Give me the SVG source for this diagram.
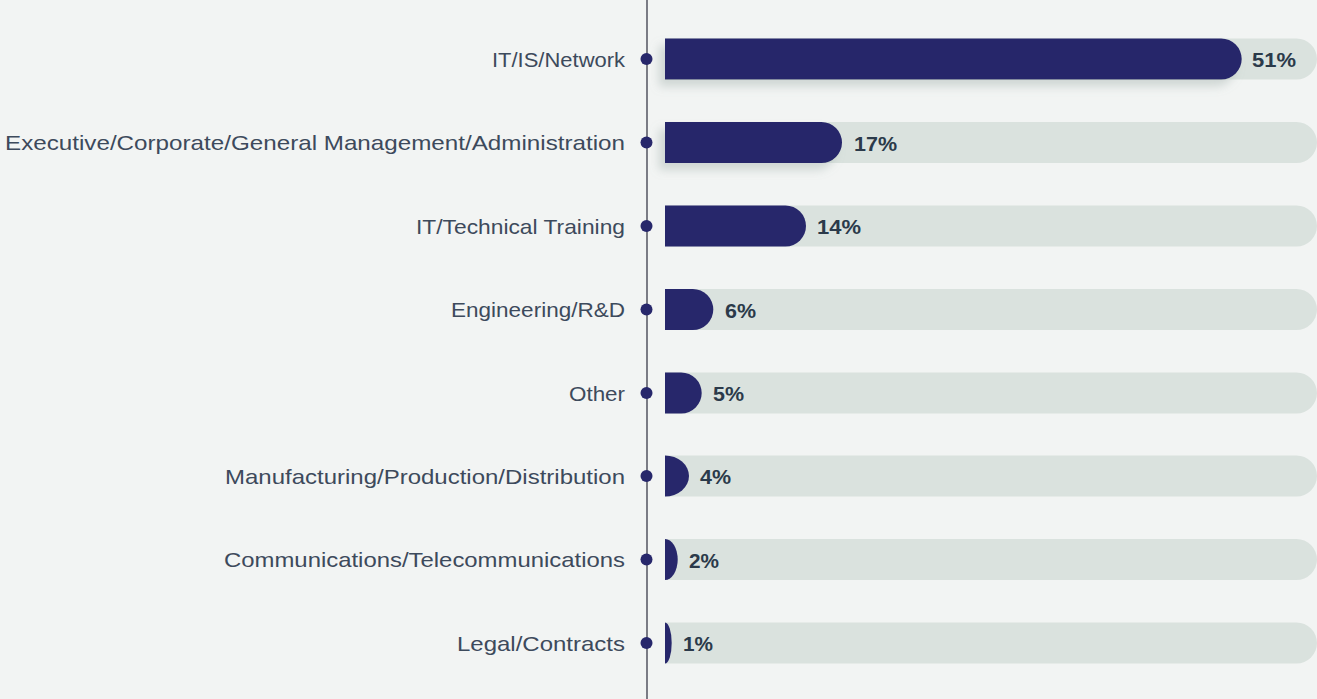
<svg xmlns="http://www.w3.org/2000/svg" width="1317" height="699" viewBox="0 0 1317 699">
<style>
.bg{fill:#f2f4f3}
.track{fill:#dae2de}
.bar{fill:#27276b}
.dot{fill:#27276b}
.axis{stroke:#2b2b3b;stroke-width:1.2}
.lbl{font-family:"Liberation Sans",Arial,sans-serif;font-size:21px;fill:#3d4a5c;text-anchor:end}
.pct{font-family:"Liberation Sans",Arial,sans-serif;font-size:21px;font-weight:bold;fill:#2b3a4a}
</style>
<defs>
<filter id="sh" x="-10%" y="-50%" width="120%" height="220%">
<feDropShadow dx="-6" dy="7" stdDeviation="5" flood-color="#8fa09a" flood-opacity="0.35"/>
</filter>
</defs>
<rect class="bg" x="0" y="0" width="1317" height="699"/>
<g id="tracks">
<path class="track" d="M665 38.5H1296.5A20.5 20.5 0 0 1 1296.5 79.5H665Z"/>
<path class="track" d="M665 122H1296.5A20.5 20.5 0 0 1 1296.5 163H665Z"/>
<path class="track" d="M665 205.5H1296.5A20.5 20.5 0 0 1 1296.5 246.5H665Z"/>
<path class="track" d="M665 289H1296.5A20.5 20.5 0 0 1 1296.5 330H665Z"/>
<path class="track" d="M665 372.5H1296.5A20.5 20.5 0 0 1 1296.5 413.5H665Z"/>
<path class="track" d="M665 455.5H1296.5A20.5 20.5 0 0 1 1296.5 496.5H665Z"/>
<path class="track" d="M665 539H1296.5A20.5 20.5 0 0 1 1296.5 580H665Z"/>
<path class="track" d="M665 622.5H1296.5A20.5 20.5 0 0 1 1296.5 663.5H665Z"/>
</g>
<g id="connectors">
<line class="axis" x1="647" y1="0" x2="647" y2="699"/>
</g>
<g id="row1">
<circle class="dot" cx="646.5" cy="59" r="6"/>
<text class="lbl" x="625" y="66.5" textLength="133" lengthAdjust="spacingAndGlyphs">IT/IS/Network</text>
<path class="bar" filter="url(#sh)" d="M665 38.5H1221.2A20.5 20.5 0 0 1 1221.2 79.5H665Z"/>
<text class="pct" x="1252" y="67" textLength="44" lengthAdjust="spacingAndGlyphs">51%</text>
</g>
<g id="row2">
<circle class="dot" cx="646.5" cy="142.5" r="6"/>
<text class="lbl" x="625" y="150" textLength="620" lengthAdjust="spacingAndGlyphs">Executive/Corporate/General Management/Administration</text>
<path class="bar" filter="url(#sh)" d="M665 122H821.5A20.5 20.5 0 0 1 821.5 163H665Z"/>
<text class="pct" x="854" y="150.5" textLength="43" lengthAdjust="spacingAndGlyphs">17%</text>
</g>
<g id="row3">
<circle class="dot" cx="646.5" cy="226" r="6"/>
<text class="lbl" x="625" y="233.5" textLength="209" lengthAdjust="spacingAndGlyphs">IT/Technical Training</text>
<path class="bar" d="M665 205.5H785.5A20.5 20.5 0 0 1 785.5 246.5H665Z"/>
<text class="pct" x="817" y="234" textLength="44" lengthAdjust="spacingAndGlyphs">14%</text>
</g>
<g id="row4">
<circle class="dot" cx="646.5" cy="309.5" r="6"/>
<text class="lbl" x="625" y="317" textLength="174" lengthAdjust="spacingAndGlyphs">Engineering/R&amp;D</text>
<path class="bar" d="M665 289H692.8A20.5 20.5 0 0 1 692.8 330H665Z"/>
<text class="pct" x="725" y="317.5" textLength="31" lengthAdjust="spacingAndGlyphs">6%</text>
</g>
<g id="row5">
<circle class="dot" cx="646.5" cy="393" r="6"/>
<text class="lbl" x="625" y="400.5" textLength="56" lengthAdjust="spacingAndGlyphs">Other</text>
<path class="bar" d="M665 372.5H681.2A20.5 20.5 0 0 1 681.2 413.5H665Z"/>
<text class="pct" x="713" y="401" textLength="31" lengthAdjust="spacingAndGlyphs">5%</text>
</g>
<g id="row6">
<circle class="dot" cx="646.5" cy="476" r="6"/>
<text class="lbl" x="625" y="483.5" textLength="400" lengthAdjust="spacingAndGlyphs">Manufacturing/Production/Distribution</text>
<path class="bar" d="M665 455.5A24 20.5 0 0 1 665 496.5Z"/>
<text class="pct" x="700" y="484" textLength="31" lengthAdjust="spacingAndGlyphs">4%</text>
</g>
<g id="row7">
<circle class="dot" cx="646.5" cy="559.5" r="6"/>
<text class="lbl" x="625" y="567" textLength="401" lengthAdjust="spacingAndGlyphs">Communications/Telecommunications</text>
<path class="bar" d="M665 539A12.7 20.5 0 0 1 665 580Z"/>
<text class="pct" x="689" y="567.5" textLength="30" lengthAdjust="spacingAndGlyphs">2%</text>
</g>
<g id="row8">
<circle class="dot" cx="646.5" cy="643" r="6"/>
<text class="lbl" x="625" y="650.5" textLength="168" lengthAdjust="spacingAndGlyphs">Legal/Contracts</text>
<path class="bar" d="M665 622.5A6.7 20.5 0 0 1 665 663.5Z"/>
<text class="pct" x="683" y="651" textLength="30" lengthAdjust="spacingAndGlyphs">1%</text>
</g>
</svg>
